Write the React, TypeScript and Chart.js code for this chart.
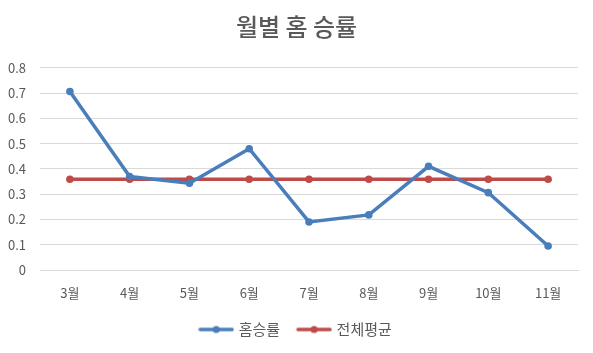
import React, { useEffect, useRef } from "react";
import { Chart, registerables } from "chart.js";
Chart.register(...registerables);

const categories = ["3월", "4월", "5월", "6월", "7월", "8월", "9월", "10월", "11월"];
const homeWinRate = [0.706, 0.37, 0.343, 0.48, 0.19, 0.218, 0.41, 0.306, 0.095];
const overallAvg = [0.359, 0.359, 0.359, 0.359, 0.359, 0.359, 0.359, 0.359, 0.359];
const seriesNames = ["홈승률", "전체평균"];
const titleText = "월별 홈 승률";

const BLUE = "#4a7ebb";
const RED = "#be4b48";
const FONT = "'Noto Sans CJK KR', 'Noto Sans', sans-serif";

function legendIcon(color: string) {
  const c = document.createElement("canvas");
  c.width = 36;
  c.height = 10;
  const ctx = c.getContext("2d")!;
  ctx.strokeStyle = color;
  ctx.lineWidth = 3.5;
  ctx.lineCap = "round";
  ctx.beginPath();
  ctx.moveTo(2, 5);
  ctx.lineTo(34, 5);
  ctx.stroke();
  ctx.fillStyle = color;
  ctx.beginPath();
  ctx.arc(18, 5, 3.6, 0, Math.PI * 2);
  ctx.fill();
  return c;
}

const centerLegend = {
  id: "centerLegend",
  afterLayout(chart: any) {
    if (chart.legend) {
      chart.legend.left = 0;
      chart.legend.right = chart.width;
    }
    if (chart.titleBlock) {
      chart.titleBlock.left = 0;
      chart.titleBlock.right = chart.width;
    }
  },
};

export default function App() {
  const ref = useRef<HTMLCanvasElement | null>(null);
  useEffect(() => {
    if (!ref.current) return;
    const icons = [legendIcon(BLUE), legendIcon(RED)];
    const chart = new Chart(ref.current, {
      type: "line",
      data: {
        labels: categories,
        datasets: [
          {
            label: seriesNames[0],
            data: homeWinRate,
            borderColor: BLUE,
            backgroundColor: BLUE,
            borderWidth: 3.5,
            pointRadius: 3.8,
            pointBorderWidth: 0,
            pointBackgroundColor: BLUE,
            tension: 0,
          },
          {
            label: seriesNames[1],
            data: overallAvg,
            borderColor: RED,
            backgroundColor: RED,
            borderWidth: 3.5,
            pointRadius: 3.8,
            pointBorderWidth: 0,
            pointBackgroundColor: RED,
            tension: 0,
          },
        ],
      },
      plugins: [centerLegend],
      options: {
        animation: false,
        responsive: false,
        layout: { padding: { left: 0, right: 15, top: 6, bottom: 6 } },
        plugins: {
          title: {
            display: true,
            text: titleText,
            color: "#595959",
            font: { family: FONT, size: 24, weight: "500" },
            padding: { top: 6, bottom: 27 },
          },
          legend: {
            position: "bottom",
            labels: {
              color: "#595959",
              font: { family: FONT, size: 15 },
              usePointStyle: true,
              pointStyleWidth: 30,
              padding: 19,
              generateLabels: (ch: any) =>
                ch.data.datasets.map((d: any, i: number) => ({
                  text: d.label,
                  fillStyle: d.borderColor,
                  strokeStyle: d.borderColor,
                  fontColor: "#595959",
                  pointStyle: icons[i],
                  datasetIndex: i,
                  hidden: false,
                  lineWidth: 0,
                })),
            },
          },
          tooltip: { enabled: false },
        },
        scales: {
          x: {
            offset: true,
            grid: { display: false, drawTicks: false },
            border: { display: true, color: "#d9d9d9", width: 1 },
            ticks: { color: "#595959", font: { family: FONT, size: 13 }, padding: 15 },
            afterFit: (s: any) => {
              s.height = 33;
            },
          },
          y: {
            min: 0,
            max: 0.8,
            ticks: {
              stepSize: 0.1,
              color: "#595959",
              font: { family: FONT, size: 13 },
              padding: 14,
            },
            grid: { color: "#d9d9d9", drawTicks: false, lineWidth: 1 },
            border: { display: false },
            afterFit: (s: any) => {
              s.width = 40;
            },
          },
        },
      },
    } as any);
    return () => chart.destroy();
  }, []);
  return (
    <div style={{ position: "absolute", left: 0, top: 0, width: 593, height: 353, background: "#fff" }}>
      <canvas ref={ref} width={593} height={353} style={{ width: 593, height: 353 }} />
    </div>
  );
}
